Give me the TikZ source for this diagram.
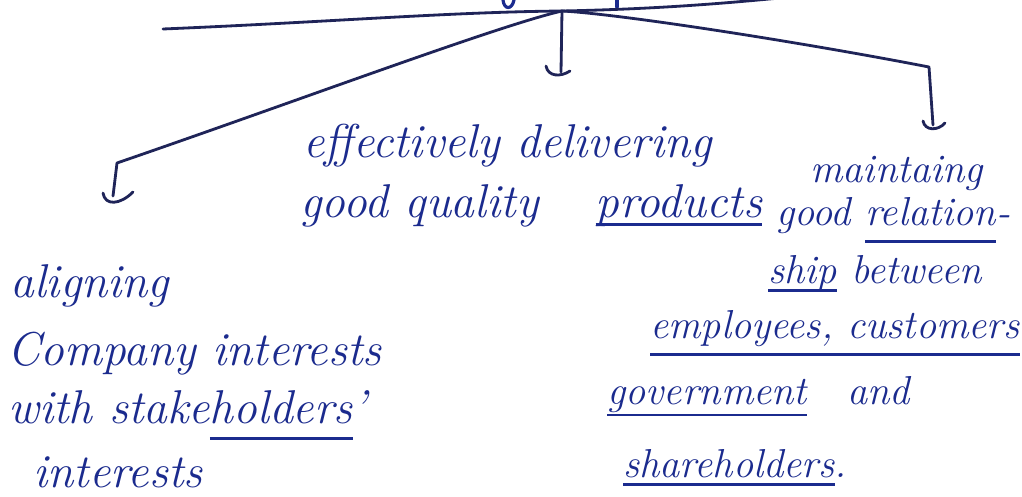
\documentclass[tikz,border=0pt]{standalone}
\usepackage{tikz}
\definecolor{cink}{HTML}{1B2B8E}
\definecolor{cline}{HTML}{1F2458}
% underline drawn a little below the word, as in the handwriting
\newcommand{\inkul}[2][6pt]{\setbox0=\hbox{#2}\rlap{\raisebox{-#1}{\color{cink}\rule{\wd0}{1.4pt}}}\box0\relax}

\begin{document}
\begin{tikzpicture}[x=0.02cm,y=-0.02cm,
  txt/.style={anchor=base west,inner sep=0pt,text=cink,
    font=\fontsize{#1}{#1}\selectfont\itshape},
  txt/.default=25,
  conn/.style={draw=cline,line width=1.6pt,line cap=round,line join=round},
  cup/.style={draw=cline,line width=1.6pt,line cap=round},
  frag/.style={draw=cink,line width=1.8pt,line cap=round}]
  \useasboundingbox (0,0) rectangle (1022,497);
  \fill[white] (0,0) rectangle (1022,497);

  % trunk and branching point
  \coordinate (trunkL) at (163,29);
  \coordinate (trunkR) at (800,-4);
  \coordinate (root) at (562,11);
  \coordinate (lend) at (117,163);
  \coordinate (lfoot) at (113,196);
  \coordinate (mend) at (561,72);
  \coordinate (rend) at (929,67);
  \coordinate (rfoot) at (933,125);

  % bits of the words above, cut off by the page edge
  \draw[frag] (503,0) .. controls (504,10) and (512,10) .. (514,0);
  \draw[frag] (617,0) -- (617,7);

  \draw[conn] (trunkL) .. controls (330,22) and (450,12) .. (root)
    .. controls (660,9) and (730,3) .. (trunkR);
  \draw[conn] (root) .. controls (500,25) and (300,100) .. (lend) -- (lfoot);
  \draw[cup] (103,193) .. controls (105,206) and (120,205) .. (133,192);
  \draw[conn] (root) -- (mend);
  \draw[cup] (546,66) .. controls (548,77) and (561,77) .. (570,71);
  \draw[conn] (root) .. controls (620,14) and (800,42) .. (rend) -- (rfoot);
  \draw[cup] (923,121) .. controls (925,131) and (938,131) .. (945,123);

  % middle branch
  \node[txt=27] (deliv1) at (303,157) {effectively delivering};
  \node[txt=27] (deliv2) at (300,217) {good quality\hspace{1.2em}\inkul[5pt]{products}};

  % right branch
  \node[txt=23] (rel1) at (810,182) {maintaing};
  \node[txt=23] (rel2) at (776,225) {good \inkul[10pt]{relation}-};
  \node[txt=23] (rel3) at (768,283) {\inkul[5pt]{ship} between};
  \node[txt=23] (rel4) at (650,338) {\inkul[10pt]{employees, customers}};
  \node[txt=23] (rel5) at (607,404) {\inkul[7pt]{government}\hspace{1em}and};
  \node[txt=23] (rel6) at (623,477) {\inkul[5pt]{shareholders}.};

  % left branch
  \node[txt=27] (align1) at (10,297) {aligning};
  \node[txt=27] (align2) at (7,365) {Company interests};
  \node[txt=27] (align3) at (8,423) {with stake\inkul[9.5pt]{holders}'};
  \node[txt=27] (align4) at (33,487) {interests};
\end{tikzpicture}
\end{document}
